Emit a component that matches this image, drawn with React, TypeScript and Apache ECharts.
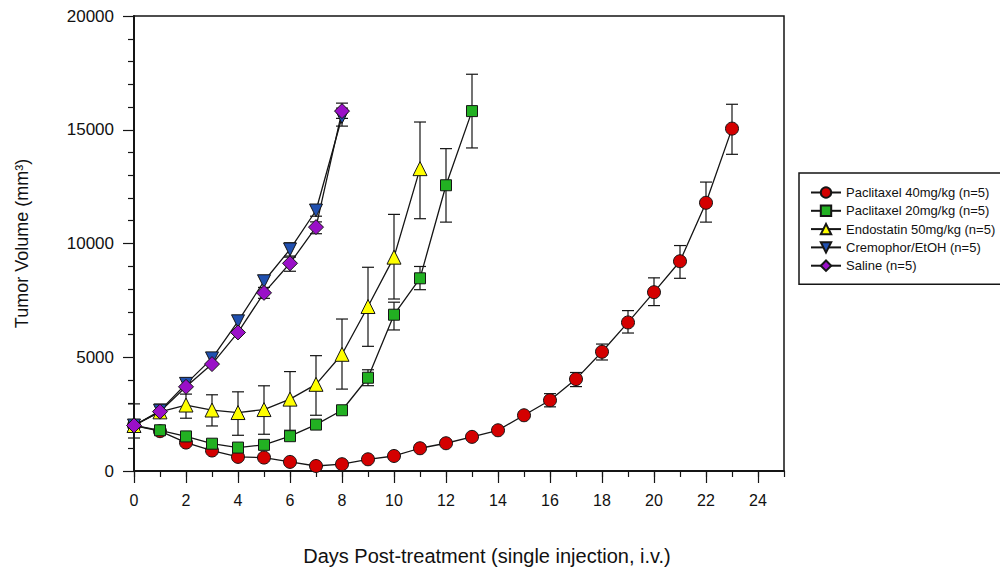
import React, { useEffect, useRef } from "react";
import * as echarts from "echarts";

// ---- data (days post-treatment, tumor volume mm^3) ----
const pac40Days = [0, 1, 2, 3, 4, 5, 6, 7, 8, 9, 10, 11, 12, 13, 14, 15, 16, 17, 18, 19, 20, 21, 22, 23];
const pac40Vals = [2000, 1750, 1250, 900, 620, 590, 400, 220, 300, 515, 660, 1000, 1220, 1500, 1790, 2450, 3110, 4040, 5240, 6530, 7860, 9220, 11790, 15050];
const pac40Err = [
  [16, 2820, 3400], [17, 3710, 4330], [18, 4880, 5580], [19, 6065, 7050],
  [20, 7270, 8490], [21, 8470, 9910], [22, 10940, 12700], [23, 13920, 16120],
];

const pac20Days = [0, 1, 2, 3, 4, 5, 6, 7, 8, 9, 10, 11, 12, 13];
const pac20Vals = [2000, 1790, 1520, 1200, 1030, 1150, 1530, 2040, 2670, 4100, 6870, 8470, 12560, 15820];
const pac20Err = [
  [9, 3750, 4450], [10, 6200, 7420], [11, 7970, 8990], [12, 10940, 14170], [13, 14200, 17440],
];

const endoDays = [0, 1, 2, 3, 4, 5, 6, 7, 8, 9, 10, 11];
const endoVals = [2000, 2600, 2900, 2680, 2570, 2700, 3160, 3810, 5130, 7230, 9400, 13290];
const endoErr = [
  [0, 1450, 2950], [1, 2380, 2940], [2, 2320, 3380], [3, 1980, 3350], [4, 1570, 3480],
  [5, 1615, 3745], [6, 1790, 4370], [7, 2450, 5070], [8, 3600, 6680], [9, 5480, 8955],
  [10, 7560, 11280], [11, 11090, 15340],
];

const cremDays = [0, 1, 2, 3, 4, 5, 6, 7, 8];
const cremVals = [2000, 2650, 3830, 4950, 6580, 8340, 9740, 11450, 15560];
const cremErr = [[6, 9450, 10030], [7, 11200, 11700], [8, 15160, 15950]];

const salDays = [0, 1, 2, 3, 4, 5, 6, 7, 8];
const salVals = [2000, 2610, 3700, 4700, 6090, 7830, 9130, 10720, 15820];
const salErr = [[5, 7590, 8070], [6, 8780, 9400], [7, 10430, 10950], [8, 15500, 16170]];

const seriesNames = [
  "Paclitaxel 40mg/kg (n=5)",
  "Paclitaxel 20mg/kg (n=5)",
  "Endostatin 50mg/kg (n=5)",
  "Cremophor/EtOH (n=5)",
  "Saline (n=5)",
];

const yTicks = [0, 5000, 10000, 15000, 20000];
const xLabelDays = [0, 2, 4, 6, 8, 10, 12, 14, 16, 18, 20, 22, 24];

const FONT = "'Liberation Sans', Arial, sans-serif";

function pairs(days: number[], vals: number[]) {
  return days.map((d, i) => [d, vals[i]]);
}

function errSeries(name: string, data: number[][]) {
  return {
    name,
    type: "custom",
    xAxisIndex: 0,
    yAxisIndex: 0,
    z: 1,
    silent: true,
    encode: { x: 0, y: [1, 2] },
    data,
    renderItem: (params: any, api: any) => {
      const x = api.value(0);
      const lo = api.coord([x, api.value(1)]);
      const hi = api.coord([x, api.value(2)]);
      const w = 6;
      const style = { stroke: "#151515", lineWidth: 1.2 };
      return {
        type: "group",
        children: [
          { type: "line", shape: { x1: lo[0], y1: lo[1], x2: hi[0], y2: hi[1] }, style },
          { type: "line", shape: { x1: lo[0] - w, y1: lo[1], x2: lo[0] + w, y2: lo[1] }, style },
          { type: "line", shape: { x1: hi[0] - w, y1: hi[1], x2: hi[0] + w, y2: hi[1] }, style },
        ],
      };
    },
  };
}

function lineSeries(name: string, data: number[][], symbol: string, size: number, color: string, rotate = 0) {
  return {
    name,
    type: "line",
    xAxisIndex: 0,
    yAxisIndex: 0,
    z: 3,
    data,
    symbol,
    symbolSize: size,
    symbolRotate: rotate,
    showAllSymbol: true,
    lineStyle: { color: "#151515", width: 1.3 },
    itemStyle: { color, borderColor: "#151515", borderWidth: 1 },
  };
}

export default function App() {
  const ref = useRef<HTMLDivElement>(null);
  useEffect(() => {
    if (!ref.current) return;
    const chart = echarts.init(ref.current, undefined, { renderer: "svg" });
    const axisColor = "#151515";
    chart.setOption({
      animation: false,
      backgroundColor: "#ffffff",
      textStyle: { fontFamily: FONT },
      grid: [
        {
          left: 134, top: 16, width: 650, height: 455, show: true,
          borderColor: axisColor, borderWidth: 1.5, backgroundColor: "transparent",
          containLabel: false, outerBoundsMode: "none",
        },
        { left: 134, top: 16, width: 624, height: 455, show: false, containLabel: false, outerBoundsMode: "none" },
      ],
      xAxis: [
        {
          type: "value",
          gridIndex: 0,
          min: 0,
          max: 25,
          interval: 1,
          axisLine: { show: true, lineStyle: { color: axisColor, width: 2 } },
          axisTick: { show: true, length: 6, lineStyle: { color: axisColor, width: 1.2 } },
          axisLabel: { show: false },
          splitLine: { show: false },
          name: "Days Post-treatment (single injection, i.v.)",
          nameLocation: "middle",
          nameGap: 75,
          nameTextStyle: { fontSize: 20, color: "#111", fontFamily: FONT, padding: [0, 0, 0, 56] },
        },
        {
          type: "value",
          gridIndex: 1,
          min: 0,
          max: 24,
          interval: 2,
          axisLine: { show: false },
          axisTick: { show: true, length: 12, lineStyle: { color: axisColor, width: 1.2 } },
          axisLabel: {
            show: true,
            margin: 21,
            fontSize: 16,
            color: "#111",
            fontFamily: FONT,
            formatter: (v: number) => (xLabelDays.indexOf(v) >= 0 ? String(v) : ""),
          },
          splitLine: { show: false },
        },
      ],
      yAxis: [
        {
          type: "value",
          gridIndex: 0,
          min: 0,
          max: 20000,
          interval: 5000,
          axisLine: { show: true, lineStyle: { color: axisColor, width: 2 } },
          axisTick: { show: true, length: 11, lineStyle: { color: axisColor, width: 1.2 } },
          minorTick: { show: true, splitNumber: 5, length: 6, lineStyle: { color: axisColor, width: 1.2 } },
          minorSplitLine: { show: false },
          splitLine: { show: false },
          axisLabel: {
            margin: 20,
            fontSize: 17,
            color: "#111",
            fontFamily: FONT,
            formatter: (v: number) => (yTicks.indexOf(v) >= 0 ? String(v) : ""),
          },
          name: "Tumor Volume (mm³)",
          nameLocation: "middle",
          nameGap: 103,
          nameRotate: 90,
          nameTextStyle: { fontSize: 18, color: "#111", fontFamily: FONT },
        },
        { type: "value", gridIndex: 1, min: 0, max: 20000, show: false },
      ],
      legend: {
        data: seriesNames,
        orient: "vertical",
        left: 799,
        top: 173,
        padding: [13, 40, 12, 11],
        itemWidth: 30,
        itemHeight: 13,
        itemGap: 5.3,
        borderColor: "#151515",
        borderWidth: 1.5,
        backgroundColor: "#ffffff",
        textStyle: { fontSize: 13, color: "#111", fontFamily: FONT },
      },
      series: [
        errSeries("err40", pac40Err),
        errSeries("err20", pac20Err),
        errSeries("errEndo", endoErr),
        errSeries("errCrem", cremErr),
        errSeries("errSal", salErr),
        lineSeries(seriesNames[0], pairs(pac40Days, pac40Vals), "circle", 13, "#d40000"),
        lineSeries(seriesNames[1], pairs(pac20Days, pac20Vals), "rect", 11, "#22b022"),
        lineSeries(seriesNames[2], pairs(endoDays, endoVals), "triangle", 14, "#ffff00"),
        lineSeries(seriesNames[3], pairs(cremDays, cremVals), "triangle", 13, "#2050b0", 180),
        lineSeries(seriesNames[4], pairs(salDays, salVals), "diamond", 15, "#9a10c8"),
      ],
    });
    return () => chart.dispose();
  }, []);
  return (
    <div
      ref={ref}
      style={{ position: "absolute", left: 0, top: 0, width: 1000, height: 570, background: "#fff" }}
    />
  );
}
